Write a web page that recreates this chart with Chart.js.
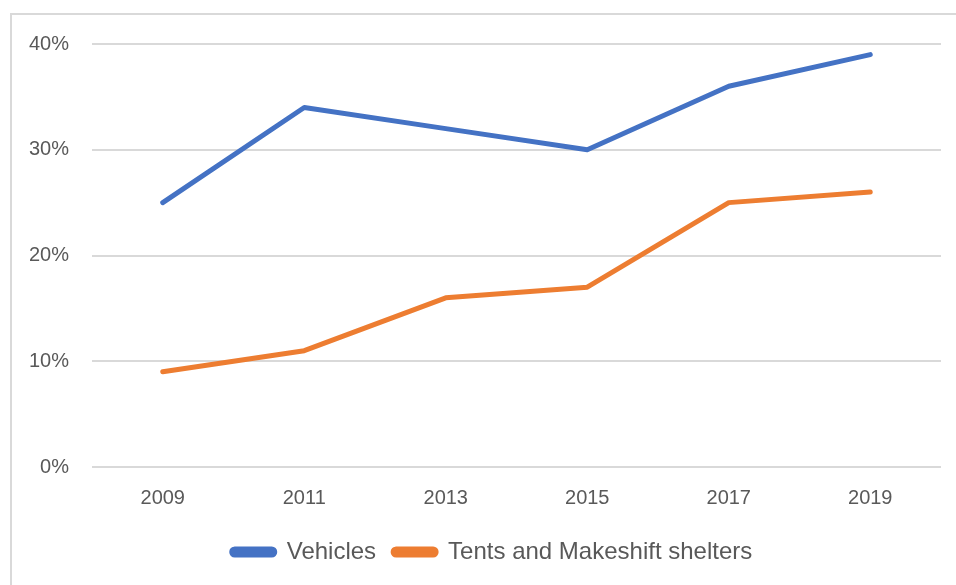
<!DOCTYPE html>
<html>
<head>
<meta charset="utf-8">
<script src="https://cdn.jsdelivr.net/npm/chart.js@4"></script>
<style>
  html, body { margin: 0; padding: 0; background: #fff; }
  #wrap { position: relative; width: 956px; height: 585px; overflow: hidden; }
  #frame { position: absolute; left: 10px; top: 13px; width: 1000px; height: 700px;
           border-left: 2px solid #d9d9d9; border-top: 2px solid #d9d9d9; }
  #chart { position: absolute; left: 0; top: 0; }
</style>
</head>
<body>
<div id="wrap">
  <div id="frame"></div>
  <canvas id="chart" width="956" height="585"></canvas>
</div>
<script>
const years = ["2009", "2011", "2013", "2015", "2017", "2019"];
const vehicles = [25, 34, 32, 30, 36, 39];
const tents = [9, 11, 16, 17, 25, 26];
const yTicks = [0, 10, 20, 30, 40];

const textColor = "#595959";
const fontFamily = "'Liberation Sans', Arial, sans-serif";

// legend in the reference sits a bit right of centre, nudge it after layout
const legendShift = {
  id: "legendShift",
  afterLayout(chart) {
    if (chart.legend) chart.legend.left += 43;
  }
};

const ctx = document.getElementById("chart").getContext("2d");
new Chart(ctx, {
  type: "line",
  data: {
    labels: years,
    datasets: [
      {
        label: "Vehicles",
        data: vehicles,
        borderColor: "#4472C4",
        backgroundColor: "#4472C4",
        borderWidth: 5,
        pointRadius: 0,
        tension: 0,
        borderCapStyle: "round",
        borderJoinStyle: "round"
      },
      {
        label: "Tents and Makeshift shelters",
        data: tents,
        borderColor: "#ED7D31",
        backgroundColor: "#ED7D31",
        borderWidth: 5,
        pointRadius: 0,
        tension: 0,
        borderCapStyle: "round",
        borderJoinStyle: "round"
      }
    ]
  },
  options: {
    responsive: false,
    animation: false,
    layout: { padding: { left: 0, right: 15, top: 44, bottom: 11 } },
    plugins: {
      tooltip: { enabled: false },
      legend: {
        position: "bottom",
        labels: {
          boxWidth: 43,
          boxHeight: 6,
          useBorderRadius: true,
          borderRadius: 3,
          padding: 17,
          color: textColor,
          font: { family: fontFamily, size: 24 }
        }
      }
    },
    scales: {
      x: {
        offset: true,
        grid: { display: false, drawTicks: false },
        border: { display: false },
        ticks: { color: textColor, padding: 19, font: { family: fontFamily, size: 20 } },
        afterFit: (s) => { s.height = 56; }
      },
      y: {
        min: 0,
        max: 40,
        afterBuildTicks: (s) => { s.ticks = yTicks.map(v => ({ value: v })); },
        grid: { color: "#d9d9d9", lineWidth: 2, drawTicks: false },
        border: { display: false },
        ticks: {
          color: textColor,
          padding: 23,
          font: { family: fontFamily, size: 20 },
          callback: (v) => v + "%"
        },
        afterFit: (s) => { s.width = 92; }
      }
    }
  },
  plugins: [legendShift]
});
</script>
</body>
</html>
